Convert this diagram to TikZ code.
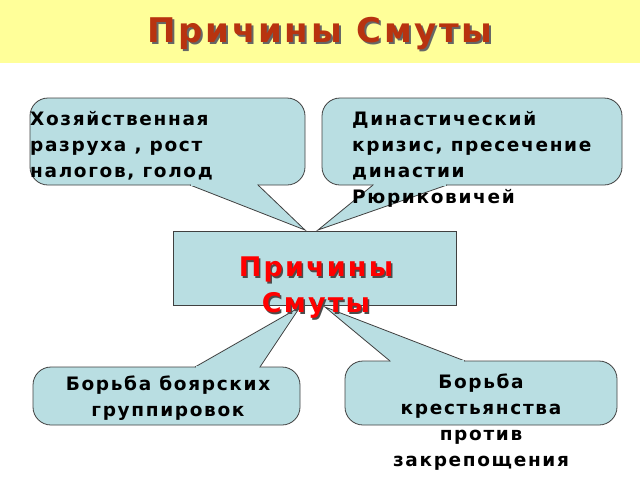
\documentclass[tikz,border=0pt]{standalone}
\usepackage{fontspec}
\setmainfont{DejaVu Sans}
\newfontfamily\wide[LetterSpace=9]{DejaVu Sans}
\newfontfamily\wideb[LetterSpace=8]{DejaVu Sans}
\definecolor{cfill}{HTML}{B9DEE2}
\definecolor{ttl}{HTML}{B8330F}
\definecolor{band}{HTML}{FFFF99}
\tikzset{
 cbox/.style={fill=cfill,draw=black!75,line width=0.8pt},
 cfl/.style={fill=cfill},
 txt/.style={font=\wide\bfseries\fontsize{18.5}{26}\selectfont,inner sep=0pt},
 big/.style={font=\wideb\bfseries\fontsize{34}{38}\selectfont},
 mid/.style={font=\wideb\bfseries\fontsize{27}{36}\selectfont,align=center},
}
\begin{document}
\begin{tikzpicture}[x=1pt,y=-1pt]
\useasboundingbox (0,0) rectangle (640,480);
\fill[band] (0,0) rectangle (640,63);
\node[big,text=black!60] at (322,36) {Причины Смуты};
\node (title)[big,text=ttl] at (320,34) {Причины Смуты};
% top-left callout
\draw[cbox,rounded corners=18] (30,98) rectangle (305,185);
\draw[cbox] (190,185) -- (305,230) -- (258,185);
\fill[cfl] (191,183.5) -- (257,183.5) -- (257,186) -- (191,186) -- cycle;
% top-right callout
\draw[cbox,rounded corners=18] (322,98) rectangle (622,185);
\draw[cbox] (373,185) -- (318,230) -- (447,185);
\fill[cfl] (374,183.5) -- (446,183.5) -- (446,186) -- (374,186) -- cycle;
% bottom-left callout
\draw[cbox,rounded corners=18] (33,367) rectangle (300,425);
\draw[cbox] (195,367) -- (300,307) -- (260,367);
\fill[cfl] (196,365.5) -- (259,365.5) -- (259,368.5) -- (196,368.5) -- cycle;
% bottom-right callout
\draw[cbox,rounded corners=18] (345,361) rectangle (617,425);
\draw[cbox] (390,361) -- (325,307) -- (465,361);
\fill[cfl] (391,359.5) -- (464,359.5) -- (464,362.5) -- (391,362.5) -- cycle;
% center box
\node (center)[cbox,minimum width=283,minimum height=74,inner sep=0pt] at (314.5,268) {};
\node[mid,text=black!70] at (317.5,289.5) {Причины\\Смуты};
\node (ctext)[mid,text=red] at (316,288) {Причины\\Смуты};
% texts
\node (t1)[txt,align=left,anchor=north west] at (30,111) {Хозяйственная\\разруха , рост\\налогов, голод};
\node (t2)[txt,align=left,anchor=north west] at (352,111) {Династический\\кризис, пресечение\\династии\\Рюриковичей};
\node (t3)[txt,align=center] at (168,398) {Борьба боярских\\группировок};
\node (t4)[txt,align=center] at (481,422) {Борьба\\крестьянства\\против\\закрепощения};
\end{tikzpicture}
\end{document}
